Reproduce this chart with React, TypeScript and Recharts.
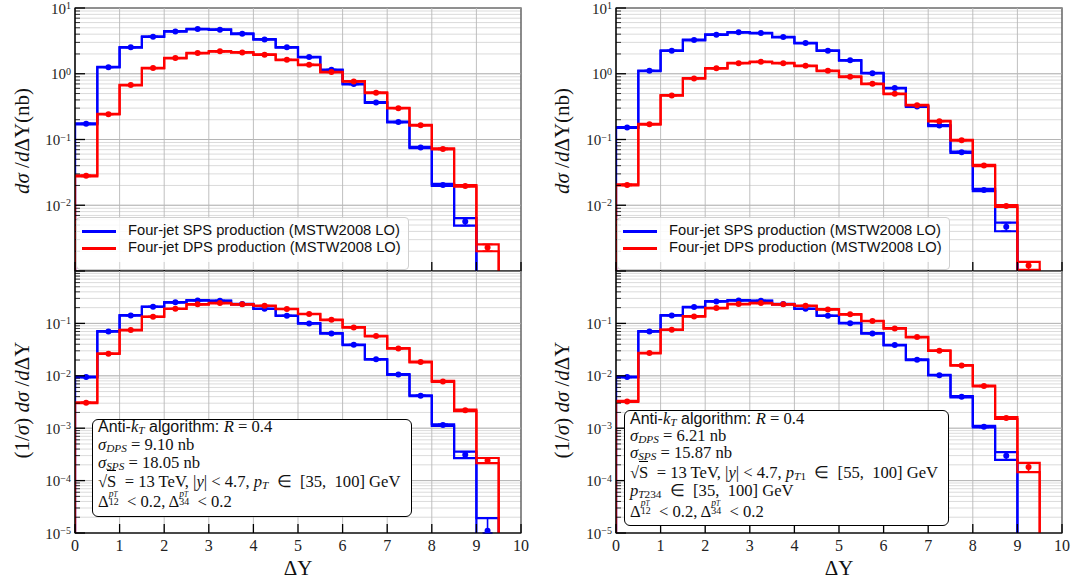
import React from 'react';
import {
  ComposedChart,
  Line,
  Scatter,
  XAxis,
  YAxis,
  CartesianGrid,
  ReferenceLine,
  ReferenceArea,
  ErrorBar,
} from 'recharts';

const SERIF = '"Liberation Serif", "Times New Roman", serif';
const SANS = '"Liberation Sans", "DejaVu Sans", sans-serif';
const BLUE = '#0000ff';
const RED = '#ff0000';

// ---------- data ----------
const binLeftEdges = [0, 0.5, 1, 1.5, 2, 2.5, 3, 3.5, 4, 4.5, 5, 5.5, 6, 6.5, 7, 7.5, 8, 8.5, 9, 9.5];
const binCenters = [0.25, 0.75, 1.25, 1.75, 2.25, 2.75, 3.25, 3.75, 4.25, 4.75, 5.25, 5.75, 6.25, 6.75, 7.25, 7.75, 8.25, 8.75, 9.25, 9.75];
const xTicks = [0, 1, 2, 3, 4, 5, 6, 7, 8, 9, 10];
const topDecades = [1e-3, 1e-2, 1e-1, 1, 10];
const bottomDecades = [1e-5, 1e-4, 1e-3, 1e-2, 1e-1, 1];

// left column: pT in [35,100] GeV
const leftTopSPS = [0.173, 1.26, 2.52, 3.66, 4.41, 4.79, 4.68, 4.06, 3.33, 2.52, 1.79, 1.15, 0.696, 0.366, 0.184, 0.0755, 0.0204, 0.00564, 0.00018, null];
const leftTopSPSErr = [0.015, 0.01, 0.01, 0.01, 0.01, 0.01, 0.01, 0.01, 0.01, 0.01, 0.01, 0.01, 0.012, 0.015, 0.015, 0.02, 0.035, 0.13, 0.6, 0];
const leftTopDPS = [0.028, 0.243, 0.672, 1.22, 1.73, 2.06, 2.19, 2.11, 1.95, 1.63, 1.37, 1.06, 0.764, 0.514, 0.3, 0.165, 0.072, 0.0197, 0.00227, null];
const leftTopDPSErr = [0.02, 0.012, 0.01, 0.01, 0.01, 0.01, 0.01, 0.01, 0.01, 0.01, 0.01, 0.01, 0.01, 0.012, 0.012, 0.015, 0.02, 0.025, 0.12, 0];

const leftBotSPS = [0.00946, 0.0704, 0.142, 0.208, 0.252, 0.275, 0.271, 0.234, 0.19, 0.14, 0.1, 0.0644, 0.0391, 0.0206, 0.0106, 0.00417, 0.00115, 0.000312, 0.000011, null];
const leftBotSPSErr = [0.015, 0.01, 0.01, 0.01, 0.01, 0.01, 0.01, 0.01, 0.01, 0.01, 0.01, 0.01, 0.012, 0.015, 0.015, 0.02, 0.035, 0.14, 0.75, 0];
const leftBotDPS = [0.00306, 0.0264, 0.0746, 0.134, 0.19, 0.231, 0.244, 0.231, 0.217, 0.188, 0.151, 0.117, 0.0838, 0.0573, 0.0333, 0.0183, 0.00782, 0.00219, 0.000243, null];
const leftBotDPSErr = [0.02, 0.012, 0.01, 0.01, 0.01, 0.01, 0.01, 0.01, 0.01, 0.01, 0.01, 0.01, 0.01, 0.012, 0.012, 0.015, 0.02, 0.03, 0.11, 0];

// right column: pT1 in [55,100] GeV, pT234 in [35,100] GeV
const rightTopSPS = [0.152, 1.11, 2.24, 3.26, 3.93, 4.26, 4.16, 3.62, 2.93, 2.24, 1.6, 1.02, 0.605, 0.318, 0.163, 0.0641, 0.0171, 0.00473, null, null];
const rightTopSPSErr = [0.015, 0.01, 0.01, 0.01, 0.01, 0.01, 0.01, 0.01, 0.01, 0.01, 0.01, 0.01, 0.012, 0.015, 0.02, 0.025, 0.04, 0.15, 0, 0];
const rightTopDPS = [0.0204, 0.171, 0.468, 0.849, 1.21, 1.45, 1.52, 1.45, 1.32, 1.11, 0.9, 0.704, 0.496, 0.333, 0.19, 0.0977, 0.0402, 0.00977, 0.00121, null];
const rightTopDPSErr = [0.02, 0.012, 0.01, 0.01, 0.01, 0.01, 0.01, 0.01, 0.01, 0.01, 0.01, 0.01, 0.01, 0.012, 0.012, 0.015, 0.02, 0.03, 0.14, 0];

const rightBotSPS = [0.00946, 0.0704, 0.142, 0.205, 0.263, 0.275, 0.271, 0.234, 0.19, 0.14, 0.101, 0.0644, 0.0386, 0.0202, 0.0103, 0.00399, 0.00107, 0.000299, null, null];
const rightBotSPSErr = [0.015, 0.01, 0.01, 0.01, 0.01, 0.01, 0.01, 0.01, 0.01, 0.01, 0.01, 0.01, 0.012, 0.015, 0.015, 0.025, 0.035, 0.17, 0, 0];
const rightBotDPS = [0.00325, 0.0272, 0.0757, 0.136, 0.196, 0.234, 0.244, 0.231, 0.217, 0.185, 0.149, 0.111, 0.0802, 0.0548, 0.0301, 0.0158, 0.00638, 0.00156, 0.000182, null];
const rightBotDPSErr = [0.02, 0.012, 0.01, 0.01, 0.01, 0.01, 0.01, 0.01, 0.01, 0.01, 0.01, 0.01, 0.01, 0.012, 0.012, 0.015, 0.02, 0.04, 0.2, 0];

const legendLabels = ['Four-jet SPS production (MSTW2008 LO)', 'Four-jet DPS production (MSTW2008 LO)'];

// ---------- helpers ----------
const FLOOR = 1e-9;

function buildLogTicks(decades: number[]) {
  const out: number[] = [];
  for (let i = 0; i < decades.length - 1; i++) {
    for (let m = 1; m < 10; m++) out.push(Number((decades[i] * m).toPrecision(6)));
  }
  out.push(decades[decades.length - 1]);
  return out;
}

function isDecade(v: number) {
  const l = Math.log10(v);
  return Math.abs(l - Math.round(l)) < 1e-6;
}

function stepData(vals: (number | null)[], errs: number[], sign: number) {
  const pts: { x: number; y: number }[] = [{ x: 0, y: FLOOR }];
  vals.forEach((v, i) => {
    const y = v == null ? FLOOR : Math.max(v * (1 + sign * errs[i]), FLOOR);
    pts.push({ x: binLeftEdges[i], y });
  });
  pts.push({ x: 10, y: FLOOR });
  return pts;
}

function pointData(vals: (number | null)[], errs: number[], yMin: number) {
  const pts: { x: number; y: number; err: number[] }[] = [];
  vals.forEach((v, i) => {
    if (v == null || v < yMin) return;
    const e = v * errs[i];
    const lo = Math.min(e, v - yMin * 1.0001);
    pts.push({ x: binCenters[i], y: v, err: [lo, e] });
  });
  return pts;
}

const YTick = (props: any) => {
  const { x, y, payload, labelled } = props;
  const v = payload.value as number;
  const major = isDecade(v);
  const e = Math.round(Math.log10(v));
  const showLabel = major && labelled.includes(e);
  return (
    <g>
      <line x1={x} x2={x + (major ? 10 : 5)} y1={y} y2={y} stroke="#000" strokeWidth={major ? 1.3 : 0.8} />
      {showLabel && (
        <text x={x - 4} y={y + 5.5} textAnchor="end" fontFamily={SERIF} fontSize={15} fill="#222">
          10
          <tspan dy={-4.5} fontSize={10}>
            {e < 0 ? '\u2212' + String(-e) : String(e)}
          </tspan>
        </text>
      )}
    </g>
  );
};

const XTick = (props: any) => {
  const { x, y, payload, showLabel } = props;
  return (
    <g>
      <line x1={x} x2={x} y1={y} y2={y - 9} stroke="#000" strokeWidth={1.3} />
      {showLabel && (
        <text x={x} y={y + 18} textAnchor="middle" fontFamily={SERIF} fontSize={16} fill="#222">
          {payload.value}
        </text>
      )}
    </g>
  );
};

type PanelProps = {
  left: number;
  top: number;
  width: number;
  height: number;
  marginTop: number;
  marginRight: number;
  xAxisHeight: number;
  decades: number[];
  labelled: number[];
  sps: (number | null)[];
  spsErr: number[];
  dps: (number | null)[];
  dpsErr: number[];
  showXLabels: boolean;
};

function Panel(p: PanelProps) {
  const yMin = p.decades[0];
  const yMax = p.decades[p.decades.length - 1];
  const yTicks = buildLogTicks(p.decades);
  const series = [
    { key: 'sps', color: BLUE, vals: p.sps, errs: p.spsErr },
    { key: 'dps', color: RED, vals: p.dps, errs: p.dpsErr },
  ];
  return (
    <div style={{ position: 'absolute', left: p.left, top: p.top }}>
      <ComposedChart
        width={p.width}
        height={p.height}
        margin={{ top: p.marginTop, right: p.marginRight, bottom: 0, left: 0 }}
      >
        <CartesianGrid vertical={false} stroke="#d2d2d2" strokeWidth={0.8} />
        {p.decades.map((d) => (
          <ReferenceLine key={'hd' + d} y={d} stroke="#b0b0b0" strokeWidth={0.9} />
        ))}
        {xTicks.map((x) => (
          <ReferenceLine key={'vx' + x} x={x} stroke="#b8b8b8" strokeWidth={0.9} />
        ))}
        <XAxis
          type="number"
          dataKey="x"
          domain={[0, 10]}
          ticks={xTicks}
          interval={0}
          allowDataOverflow
          height={p.xAxisHeight}
          tickSize={0}
          tickMargin={0}
          axisLine={{ stroke: '#000', strokeWidth: 1.2 }}
          tickLine={false}
          tick={(tp: any) => <XTick {...tp} showLabel={p.showXLabels} />}
        />
        <YAxis
          type="number"
          dataKey="y"
          scale="log"
          domain={[yMin, yMax]}
          ticks={yTicks}
          interval={0}
          allowDataOverflow
          width={75}
          tickSize={0}
          tickMargin={0}
          axisLine={{ stroke: '#000', strokeWidth: 1.2 }}
          tickLine={false}
          tick={(tp: any) => <YTick {...tp} labelled={p.labelled} />}
        />
        {series.map((s) => [
          <Line
            key={s.key + 'up'}
            data={stepData(s.vals, s.errs, 1)}
            dataKey="y"
            type="stepAfter"
            stroke={s.color}
            strokeWidth={2.2}
            dot={false}
            activeDot={false}
            isAnimationActive={false}
          />,
          <Line
            key={s.key + 'lo'}
            data={stepData(s.vals, s.errs, -1)}
            dataKey="y"
            type="stepAfter"
            stroke={s.color}
            strokeWidth={2.2}
            dot={false}
            activeDot={false}
            isAnimationActive={false}
          />,
          <Scatter
            key={s.key + 'pt'}
            data={pointData(s.vals, s.errs, yMin)}
            dataKey="y"
            fill={s.color}
            isAnimationActive={false}
            shape={(sp: any) => <circle cx={sp.cx} cy={sp.cy} r={3} fill={s.color} />}
          >
            <ErrorBar dataKey="err" direction="y" width={5} stroke={s.color} strokeWidth={1.6} />
          </Scatter>,
        ])}
        <ReferenceArea x1={0} x2={10} y1={yMin} y2={yMax} fill="none" fillOpacity={0} stroke="#000" strokeWidth={1.2} />
      </ComposedChart>
    </div>
  );
}

// ---------- overlays ----------
const I = ({ children }: { children: React.ReactNode }) => <span style={{ fontStyle: 'italic' }}>{children}</span>;
const Sub = ({ children }: { children: React.ReactNode }) => (
  <span style={{ fontSize: '0.68em', position: 'relative', top: '0.22em' }}>{children}</span>
);
const SubSup = ({ sub }: { sub: React.ReactNode }) => (
  <span style={{ position: 'relative', display: 'inline-block', width: '0.85em', height: '1em' }}>
    <span style={{ position: 'absolute', left: 0, top: '-0.08em', fontSize: '0.58em', lineHeight: 0.9, fontStyle: 'italic' }}>
      p<span style={{ fontSize: '0.75em' }}>T</span>
    </span>
    <span style={{ position: 'absolute', left: 0, top: '0.72em', fontSize: '0.6em', lineHeight: 0.9 }}>{sub}</span>
  </span>
);
const Sqrt = () => (
  <span>
    √<span style={{ borderTop: '1px solid #000', paddingTop: 1 }}>S</span>
  </span>
);

function Legend({ left, top }: { left: number; top: number }) {
  return (
    <div
      style={{
        position: 'absolute',
        left,
        top,
        width: 333,
        height: 53,
        background: 'rgba(255,255,255,0.85)',
        border: '1px solid #d0d0d0',
        borderRadius: 4,
        boxSizing: 'border-box',
      }}
    >
      {[BLUE, RED].map((c, i) => (
        <div key={c} style={{ position: 'absolute', left: 0, top: 4 + i * 17, height: 17, width: 333 }}>
          <div style={{ position: 'absolute', left: 5, top: 8, width: 34, height: 2.5, background: c }} />
          <div
            style={{
              position: 'absolute',
              left: 51,
              top: 0,
              fontFamily: SANS,
              fontSize: 14.7,
              lineHeight: '17px',
              whiteSpace: 'nowrap',
              color: '#111',
            }}
          >
            {legendLabels[i]}
          </div>
        </div>
      ))}
    </div>
  );
}

function InfoBox({ left, top, width, height, lines }: { left: number; top: number; width: number; height: number; lines: { top: number; node: React.ReactNode }[] }) {
  return (
    <div
      style={{
        position: 'absolute',
        left,
        top,
        width,
        height,
        background: '#fff',
        border: '1px solid #000',
        borderRadius: 6,
        boxSizing: 'border-box',
      }}
    >
      {lines.map((l, i) => (
        <div
          key={i}
          style={{
            position: 'absolute',
            left: 5,
            top: l.top,
            fontFamily: SERIF,
            fontSize: 16.6,
            lineHeight: '18px',
            whiteSpace: 'nowrap',
            color: '#111',
          }}
        >
          {l.node}
        </div>
      ))}
    </div>
  );
}

const algoLine = (
  <span>
    <span style={{ fontFamily: SANS, fontSize: 16 }}>Anti-</span>
    <I>k</I>
    <Sub>
      <I>T</I>
    </Sub>
    <span style={{ fontFamily: SANS, fontSize: 16 }}> algorithm: </span> <I>R</I> = 0.4
  </span>
);
const deltaLine = (
  <span>
    Δ<SubSup sub="12" /> &lt; 0.2, Δ<SubSup sub="34" /> &lt; 0.2
  </span>
);

const leftBoxLines = [
  { top: -2, node: algoLine },
  { top: 16, node: <span><I>σ</I><Sub><I>DPS</I></Sub> = 9.10 nb</span> },
  { top: 33.5, node: <span><I>σ</I><Sub><I>SPS</I></Sub> = 18.05 nb</span> },
  { top: 52.5, node: <span><Sqrt />&nbsp; = 13 TeV, |<I>y</I>| &lt; 4.7, <I>p</I><Sub><I>T</I></Sub> &nbsp;∈ &nbsp;[35, &nbsp;100] GeV</span> },
  { top: 70.5, node: deltaLine },
];

const rightBoxLines = [
  { top: -1.5, node: algoLine },
  { top: 15.5, node: <span><I>σ</I><Sub><I>DPS</I></Sub> = 6.21 nb</span> },
  { top: 33, node: <span><I>σ</I><Sub><I>SPS</I></Sub> = 15.87 nb</span> },
  { top: 52.5, node: <span><Sqrt />&nbsp; = 13 TeV, |<I>y</I>| &lt; 4.7, <I>p</I><Sub><I>T</I>1</Sub> &nbsp;∈ &nbsp;[55, &nbsp;100] GeV</span> },
  { top: 70.5, node: <span><I>p</I><Sub><I>T</I>234</Sub> &nbsp;∈ &nbsp;[35, &nbsp;100] GeV</span> },
  { top: 89, node: deltaLine },
];

const RotTitle = ({ cx, cy, children }: { cx: number; cy: number; children: React.ReactNode }) => (
  <div
    style={{
      position: 'absolute',
      left: cx,
      top: cy,
      transform: 'translate(-50%, -50%) rotate(-90deg)',
      fontFamily: SERIF,
      fontSize: 21,
      lineHeight: 1,
      whiteSpace: 'nowrap',
      color: '#111',
    }}
  >
    {children}
  </div>
);

const XTitle = ({ cx }: { cx: number }) => (
  <div
    style={{
      position: 'absolute',
      left: cx,
      top: 558,
      transform: 'translateX(-50%)',
      fontFamily: SERIF,
      fontSize: 21,
      lineHeight: 1,
      whiteSpace: 'nowrap',
      color: '#111',
    }}
  >
    ΔY
  </div>
);

const topTitle = (
  <span>
    <I>dσ</I> /<I>d</I>ΔY(nb)
  </span>
);
const botTitle = (
  <span>
    (1/<I>σ</I>) <I>dσ</I> /<I>d</I>ΔY
  </span>
);

export default function App() {
  return (
    <div style={{ position: 'absolute', left: 0, top: 0, width: 1072, height: 584, background: '#fff', overflow: 'hidden' }}>
      <Panel left={0} top={0} width={540} height={272} marginTop={8} marginRight={19} xAxisHeight={1}
        decades={topDecades} labelled={[-2, -1, 0, 1]} sps={leftTopSPS} spsErr={leftTopSPSErr} dps={leftTopDPS} dpsErr={leftTopDPSErr} showXLabels={false} />
      <Panel left={0} top={271} width={540} height={313} marginTop={0} marginRight={19} xAxisHeight={51}
        decades={bottomDecades} labelled={[-5, -4, -3, -2, -1]} sps={leftBotSPS} spsErr={leftBotSPSErr} dps={leftBotDPS} dpsErr={leftBotDPSErr} showXLabels={true} />
      <Panel left={541} top={0} width={531} height={272} marginTop={8} marginRight={10} xAxisHeight={1}
        decades={topDecades} labelled={[-2, -1, 0, 1]} sps={rightTopSPS} spsErr={rightTopSPSErr} dps={rightTopDPS} dpsErr={rightTopDPSErr} showXLabels={false} />
      <Panel left={541} top={271} width={531} height={313} marginTop={0} marginRight={10} xAxisHeight={51}
        decades={bottomDecades} labelled={[-5, -4, -3, -2, -1]} sps={rightBotSPS} spsErr={rightBotSPSErr} dps={rightBotDPS} dpsErr={rightBotDPSErr} showXLabels={true} />

      <Legend left={76} top={217} />
      <Legend left={617} top={217} />

      <InfoBox left={92} top={419} width={320} height={98} lines={leftBoxLines} />
      <InfoBox left={624} top={410} width={325} height={116} lines={rightBoxLines} />

      <RotTitle cx={22} cy={141}>{topTitle}</RotTitle>
      <RotTitle cx={22} cy={400}>{botTitle}</RotTitle>
      <RotTitle cx={562} cy={141}>{topTitle}</RotTitle>
      <RotTitle cx={562} cy={400}>{botTitle}</RotTitle>

      <XTitle cx={298} />
      <XTitle cx={839} />
    </div>
  );
}
